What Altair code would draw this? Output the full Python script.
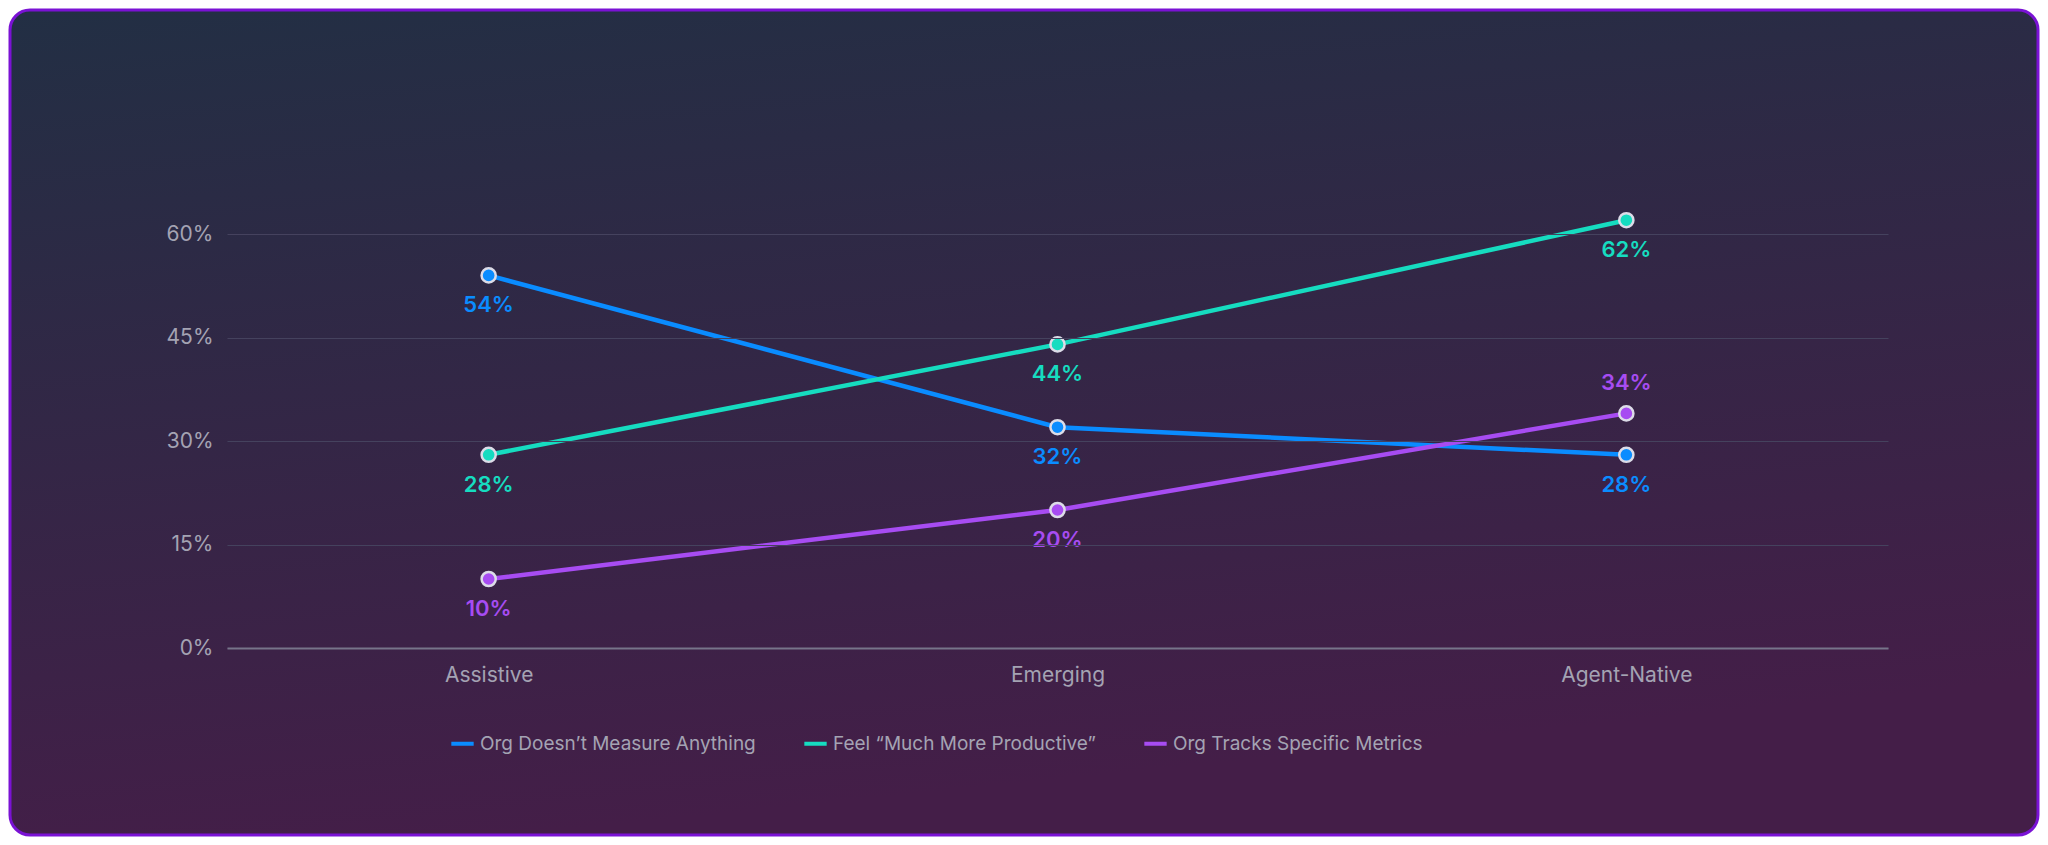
import pandas as pd
import altair as alt

## Data
tiers = ["Assistive", "Emerging", "Agent-Native"]
series_names = ["Org Doesn\u2019t Measure Anything", "Feel \u201cMuch More Productive\u201d", "Org Tracks Specific Metrics"]
no_measure = [54, 32, 28]
productive = [28, 44, 62]
tracks = [10, 20, 34]
colors = ["#0a8cff", "#16dcc0", "#a74cf2"]

rows = []
for name, vals in zip(series_names, [no_measure, productive, tracks]):
    for t, v in zip(tiers, vals):
        rows.append({"tier": t, "series": name, "value": v, "label": f"{v}%"})
df = pd.DataFrame(rows)

W, H = 1661, 414
PL, PT, PR, PB = 219, 226, 152, 189

x = alt.X("tier:N", sort=tiers, title=None,
          scale=alt.Scale(type="point", padding=0.46),
          axis=alt.Axis(labelAngle=0, labelFontSize=21, labelColor="#a4a3b3", labelPadding=16,
                        domainColor="#77748a", domainWidth=2, ticks=False, grid=False, zindex=1))
y = alt.Y("value:Q", title=None,
          scale=alt.Scale(domain=[0, 60], nice=False, clamp=False),
          axis=alt.Axis(values=[0, 15, 30, 45, 60], format=".0f", labelExpr="datum.label + '%'",
                        labelFontSize=21, labelColor="#a4a3b3", labelPadding=14,
                        domain=False, ticks=False, gridColor="#45425e", gridWidth=1, zindex=1))
color = alt.Color("series:N", sort=series_names,
                  scale=alt.Scale(domain=series_names, range=colors),
                  legend=alt.Legend(title=None, orient="none", legendX=222, legendY=496,
                                    direction="horizontal", zindex=1,
                                    symbolType="stroke", symbolStrokeWidth=4, symbolSize=500,
                                    labelFontSize=19, labelColor="#a4a3b3", labelLimit=500,
                                    columnPadding=40))

# background panel with gradient
bg = alt.Chart(pd.DataFrame({"a": [0]})).mark_rect(
    cornerRadius=20, stroke="#7a12d4", strokeWidth=3,
    fill=alt.Gradient(gradient="linear", x1=0, y1=0, x2=0.25, y2=1,
                      stops=[alt.GradientStop(offset=0, color="#222f44"),
                             alt.GradientStop(offset=1, color="#441e48")])
).encode(x=alt.value(-PL + 2), x2=alt.value(W + PR - 2), y=alt.value(-PT + 2), y2=alt.value(H + PB - 2))

base = alt.Chart(df).encode(x=x, y=y, color=color)
lines = base.mark_line(strokeWidth=4.5)
points = base.mark_point(filled=True, size=200, stroke="#dcdce8", strokeWidth=2.5, opacity=1)
below = base.transform_filter(
    "!(datum.series == 'Org Tracks Specific Metrics' && datum.tier == 'Agent-Native')"
).mark_text(dy=30, fontSize=22, fontWeight=600).encode(text="label:N")
above = base.transform_filter(
    "datum.series == 'Org Tracks Specific Metrics' && datum.tier == 'Agent-Native'"
).mark_text(dy=-30, fontSize=22, fontWeight=600).encode(text="label:N")

chart = alt.layer(bg, lines, points, below, above).properties(
    width=W, height=H,
    autosize=alt.AutoSizeParams(type="none"),
    padding={"left": PL, "top": PT, "right": PR, "bottom": PB},
    background="transparent",
    title=alt.TitleParams("Agent Adoption Compared With AI Measurement",
                          subtitle="By Agent-Maturity Tier", anchor="start", dx=-147,
                          offset=58, fontSize=45, fontWeight=600, color="#ffffff", zindex=1,
                          subtitleFontSize=21, subtitleColor="#b9b8c6", subtitlePadding=8)
).configure(font="Inter").configure_view(stroke=None)

chart.save("out.html", embed_options={"renderer": "svg", "actions": False})
